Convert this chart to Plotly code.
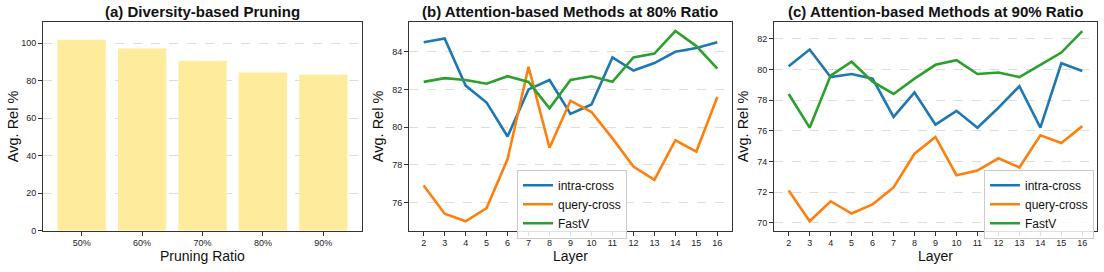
import plotly.graph_objects as go

# ---- data ----
ratios = ["50%", "60%", "70%", "80%", "90%"]
diversity_vals = [101.9, 97.2, 90.7, 84.4, 83.2]

layers = list(range(2, 17))
b_intra = [84.5, 84.7, 82.2, 81.3, 79.5, 82.0, 82.5, 80.7, 81.2, 83.7, 83.0, 83.4, 84.0, 84.2, 84.5]
b_query = [76.9, 75.4, 75.0, 75.7, 78.3, 83.2, 78.9, 81.4, 80.8, 79.4, 77.9, 77.2, 79.3, 78.7, 81.6]
b_fastv = [82.4, 82.6, 82.5, 82.3, 82.7, 82.4, 81.0, 82.5, 82.7, 82.4, 83.7, 83.9, 85.1, 84.3, 83.1]

c_intra = [80.2, 81.3, 79.5, 79.7, 79.4, 76.9, 78.5, 76.4, 77.3, 76.2, 77.5, 78.9, 76.2, 80.4, 79.9]
c_query = [72.1, 70.1, 71.4, 70.6, 71.2, 72.3, 74.5, 75.6, 73.1, 73.4, 74.2, 73.6, 75.7, 75.2, 76.3]
c_fastv = [78.4, 76.2, 79.6, 80.5, 79.2, 78.4, 79.4, 80.3, 80.6, 79.7, 79.8, 79.5, 80.3, 81.1, 82.5]

series_names = ["intra-cross", "query-cross", "FastV"]
colors = ["#1f77b4", "#ff7f0e", "#2ca02c"]

titles = ["(a) Diversity-based Pruning", "(b) Attention-based Methods at 80% Ratio",
          "(c) Attention-based Methods at 90% Ratio"]
x_titles = ["Pruning Ratio", "Layer", "Layer"]
y_title = "Avg. Rel %"

FONT = "Liberation Sans, Arial, Helvetica, sans-serif"
W, H = 1104, 272

fig = go.Figure()

fig.add_trace(go.Bar(x=ratios, y=diversity_vals, marker=dict(color="#FEEC9C", line=dict(width=0)),
                     xaxis="x", yaxis="y", showlegend=False))

for vals, name, col in zip([b_intra, b_query, b_fastv], series_names, colors):
    fig.add_trace(go.Scatter(x=layers, y=vals, mode="lines", name=name,
                             line=dict(color=col, width=2.6), xaxis="x2", yaxis="y2", legend="legend"))
for vals, name, col in zip([c_intra, c_query, c_fastv], series_names, colors):
    fig.add_trace(go.Scatter(x=layers, y=vals, mode="lines", name=name,
                             line=dict(color=col, width=2.6), xaxis="x3", yaxis="y3", legend="legend2"))


def px(x):
    return x / W


def py(y):
    return 1 - y / H


ydom = [py(235), py(22)]
doms = [[px(43), px(362)], [px(409), px(732)], [px(774), px(1097)]]

axis_common = dict(showline=True, mirror=True, linecolor="#333333", linewidth=1,
                   ticks="outside", ticklen=4, tickcolor="#333333", tickwidth=0.8,
                   tickfont=dict(family=FONT, size=9, color="#222222"), zeroline=False)
grid = dict(showgrid=True, gridcolor="#dddddd", griddash="dash", gridwidth=0.8)

legend_common = dict(xanchor="left", yanchor="top",
                     bgcolor="rgba(255,255,255,0.85)", bordercolor="#cccccc", borderwidth=1,
                     font=dict(family=FONT, size=12, color="#111111"), tracegroupgap=0,
                     itemwidth=30)

layout = dict(
    width=W, height=H, margin=dict(l=0, r=0, t=0, b=0),
    paper_bgcolor="white", plot_bgcolor="white",
    bargap=0.2,
    xaxis=dict(domain=doms[0], anchor="y", range=[-0.64, 4.64], showgrid=False, **axis_common),
    yaxis=dict(domain=ydom, anchor="x", range=[0, 111.6], tickvals=[0, 20, 40, 60, 80, 100],
               **grid, **axis_common),
    xaxis2=dict(domain=doms[1], anchor="y2", range=[1.3, 16.7], tickvals=layers, showgrid=False,
                **axis_common),
    yaxis2=dict(domain=ydom, anchor="x2", range=[74.5, 85.6], tickvals=[76, 78, 80, 82, 84],
                **grid, **axis_common),
    xaxis3=dict(domain=doms[2], anchor="y3", range=[1.3, 16.7], tickvals=layers, showgrid=False,
                **axis_common),
    yaxis3=dict(domain=ydom, anchor="x3", range=[69.48, 83.12], tickvals=[70, 72, 74, 76, 78, 80, 82],
                **grid, **axis_common),
    legend=dict(x=px(517), y=py(173), **legend_common),
    legend2=dict(x=px(984), y=py(173), **legend_common),
)
fig.update_layout(**layout)

ytitle_x = [13, 378, 743]
for t, xt, d, yx in zip(titles, x_titles, doms, ytitle_x):
    cx = (d[0] + d[1]) / 2
    fig.add_annotation(text="<b>" + t + "</b>", x=cx, y=py(12), xref="paper", yref="paper",
                       showarrow=False, xanchor="center", yanchor="middle",
                       font=dict(family=FONT, size=15, color="#111111"))
    fig.add_annotation(text=xt, x=cx, y=py(260.5), xref="paper", yref="paper",
                       showarrow=False, xanchor="center", yanchor="middle",
                       font=dict(family=FONT, size=14, color="#111111"))
    fig.add_annotation(text=y_title, x=px(yx), y=(ydom[0] + ydom[1]) / 2, xref="paper", yref="paper",
                       showarrow=False, xanchor="center", yanchor="middle", textangle=-90,
                       font=dict(family=FONT, size=14.5, color="#111111"))

fig.write_html("out.html", config={"displayModeBar": False},
               post_script="document.body.style.margin='0';")
